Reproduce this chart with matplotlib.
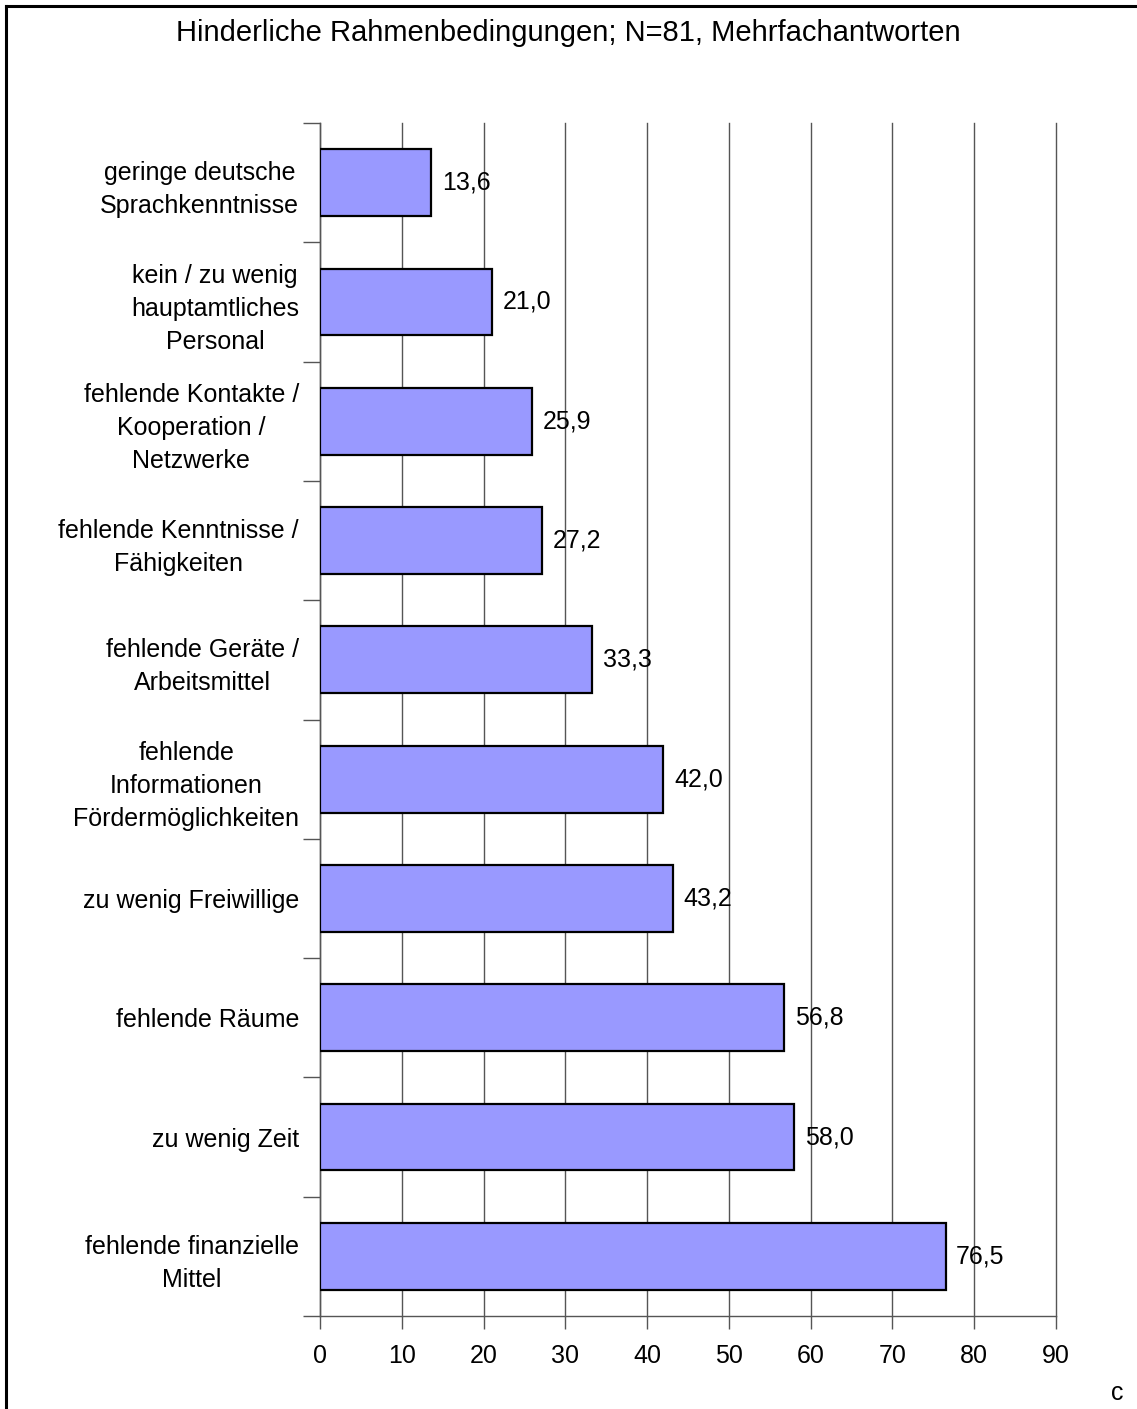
import matplotlib.pyplot as plt
from matplotlib.lines import Line2D

plt.rcParams['font.family'] = ['Liberation Sans', 'DejaVu Sans']

# data, top to bottom as shown
categories = [
    "geringe deutsche\nSprachkenntnisse",
    "kein / zu wenig\nhauptamtliches\nPersonal",
    "fehlende Kontakte /\nKooperation /\nNetzwerke",
    "fehlende Kenntnisse /\nFähigkeiten",
    "fehlende Geräte /\nArbeitsmittel",
    "fehlende\nInformationen\nFördermöglichkeiten",
    "zu wenig Freiwillige",
    "fehlende Räume",
    "zu wenig Zeit",
    "fehlende finanzielle\nMittel",
]
values = [13.6, 21.0, 25.9, 27.2, 33.3, 42.0, 43.2, 56.8, 58.0, 76.5]
xticks = [0, 10, 20, 30, 40, 50, 60, 70, 80, 90]

fig = plt.figure(figsize=(11.37, 14.09), dpi=100)
ax = fig.add_axes([0.2814, 0.066, 0.6473, 0.8467])

pos = list(range(len(values)))
ax.barh(pos, values, height=0.56, color='#9999FF', edgecolor='black', linewidth=1.6, zorder=3)
ax.set_ylim(len(values) - 0.5, -0.5)
ax.set_xlim(0, 90)

# value labels
for p, v in zip(pos, values):
    ax.text(v + 1.3, p, f"{v:.1f}".replace('.', ','), va='center', ha='left', fontsize=18, zorder=4)

# grid
ax.set_xticks(xticks)
ax.set_xticklabels([str(t) for t in xticks], fontsize=18)
ax.xaxis.grid(True, color='#555555', linewidth=1.0, zorder=0)
for gl in ax.get_xgridlines():
    gl.set_clip_on(False)
ax.tick_params(axis='x', direction='out', length=9, width=1, color='#555555', pad=11)

# y labels at centers, tick marks at category borders
ax.set_yticks(pos)
ax.set_yticklabels(categories, fontsize=18, multialignment='center', linespacing=1.47)
ax.set_yticks([p - 0.5 for p in pos] + [len(values) - 0.5], minor=True)
ax.tick_params(axis='y', which='major', length=0, pad=15)
ax.tick_params(axis='y', which='minor', direction='out', length=12, width=1, color='#555555')

for s in ['top', 'right']:
    ax.spines[s].set_visible(False)
for s in ['left', 'bottom']:
    ax.spines[s].set_color('#555555')
    ax.spines[s].set_linewidth(1.0)

fig.text(0.5, 0.9765, "Hinderliche Rahmenbedingungen; N=81, Mehrfachantworten",
         ha='center', va='center', fontsize=21)
fig.text(0.983, 0.003, "c", ha='center', va='bottom', fontsize=18)

# frame (only top and left edges visible)
fig.add_artist(Line2D([0.0057, 0.0057], [0, 0.9957], color='black', linewidth=2.2, transform=fig.transFigure))
fig.add_artist(Line2D([0.0057, 1.0], [0.9957, 0.9957], color='black', linewidth=2.2, transform=fig.transFigure))

fig.savefig('out.png', dpi=100)
